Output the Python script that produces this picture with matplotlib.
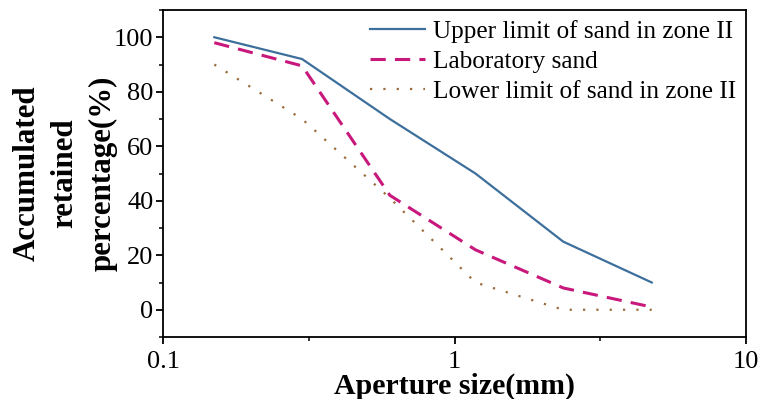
import numpy as np
import matplotlib.pyplot as plt
from matplotlib.ticker import FixedLocator, MultipleLocator, FixedFormatter

# standard sieve apertures (mm)
aperture = [0.15, 0.3, 0.6, 1.18, 2.36, 4.75]
upper_limit = [100, 92, 70, 50, 25, 10]
lab_sand = [98, 89.5, 42, 22, 8, 1]
lower_limit = [90, 70, 41, 10, 0, 0]

x_ticks = [0.1, 1, 10]
x_tick_labels = ['0.1', '1', '10']

plt.rcParams['font.family'] = ['Liberation Serif', 'DejaVu Serif']

fig = plt.figure(figsize=(7.6, 3.99), dpi=100)
ax = fig.add_axes([163 / 760, 1 - 337 / 399, (746 - 163) / 760, (337 - 10) / 399])

ax.plot(aperture, upper_limit, color='#3d6f9c', lw=1.6,
        label='Upper limit of sand in zone II')
ax.plot(aperture, lab_sand, color='#c8187c', lw=2.2, dashes=(5, 3),
        label='Laboratory sand')
ax.plot(aperture, lower_limit, color='#9a6a3a', lw=1.6, linestyle=(0, (1, 5)),
        label='Lower limit of sand in zone II')

ax.set_xscale('log')
ax.set_xlim(0.1, 10)
ax.set_ylim(-10, 110)
ax.xaxis.set_major_locator(FixedLocator(x_ticks))
ax.xaxis.set_major_formatter(FixedFormatter(x_tick_labels))
ax.xaxis.set_minor_locator(FixedLocator([10 ** -0.5, 10 ** 0.5]))
ax.yaxis.set_major_locator(MultipleLocator(20))
ax.yaxis.set_minor_locator(MultipleLocator(10))
ax.set_yticks([0, 20, 40, 60, 80, 100])

ax.tick_params(which='major', direction='out', length=5, width=1.3, labelsize=19)
ax.tick_params(which='minor', direction='out', length=3, width=1.1)
ax.tick_params(axis='x', pad=5)
ax.tick_params(axis='y', pad=2)
for s in ax.spines.values():
    s.set_linewidth(1.3)

ax.set_xlabel('Aperture size(mm)', fontsize=21.5, fontweight='bold', labelpad=0)
ax.set_ylabel('Accumulated\nretained\npercentage(%)', fontsize=22.3,
              fontweight='bold', linespacing=1.42, labelpad=-3)

ax.legend(loc='upper right', frameon=False, fontsize=18.2, handlelength=2.2,
          handletextpad=0.3, labelspacing=0.28, borderaxespad=0.2,
          borderpad=0.2)

fig.savefig('out.png', dpi=100)
